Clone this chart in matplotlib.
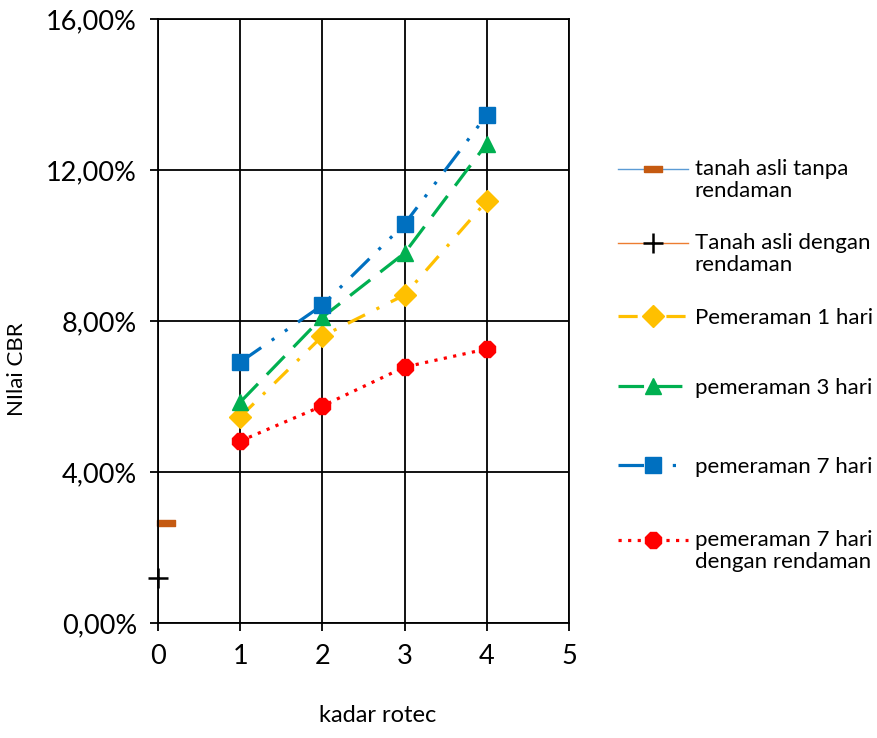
import matplotlib
matplotlib.use('Agg')
from matplotlib import pyplot as plt
from matplotlib.ticker import FuncFormatter, MultipleLocator

plt.rcParams['font.family'] = ['Lato', 'DejaVu Sans']

# data (CBR as fraction)
x_asli_tanpa = [0.1]
y_asli_tanpa = [0.0266]
x_asli_dengan = [0]
y_asli_dengan = [0.0119]
kadar = [1, 2, 3, 4]
peram_1 = [0.0546, 0.0760, 0.0869, 0.1118]
peram_3 = [0.0585, 0.0810, 0.0980, 0.1270]
peram_7 = [0.0691, 0.0842, 0.1057, 0.1346]
peram_7_rendam = [0.0482, 0.0575, 0.0678, 0.0726]

labels = ['tanah asli tanpa\nrendaman', 'Tanah asli dengan\nrendaman', 'Pemeraman 1 hari',
          'pemeraman 3 hari', 'pemeraman 7 hari', 'pemeraman 7 hari\ndengan rendaman']

fig = plt.figure(figsize=(8.78, 7.38), dpi=100)
ax = fig.add_axes([158/878, 1 - 623/738, (569-158)/878, (623-19)/738])

flat = [(-1, -0.38), (1, -0.38), (1, 0.38), (-1, 0.38), (-1, -0.38)]
lines = []
lines += ax.plot(x_asli_tanpa, y_asli_tanpa, color='#5B9BD5', lw=1, marker=flat, markersize=13,
                 markerfacecolor='#C55A11', markeredgecolor='#C55A11', clip_on=False)
lines += ax.plot(x_asli_dengan, y_asli_dengan, color='#ED7D31', lw=1, marker='+', markersize=14,
                 markeredgecolor='black', markeredgewidth=1.8, clip_on=False)
lines += ax.plot(kadar, peram_1, color='#FFC000', lw=2.3, ls=(0, (6, 4, 1, 4)), marker='D', markersize=11)
lines += ax.plot(kadar, peram_3, color='#00B050', lw=2.3, ls=(0, (8, 4)), marker='^', markersize=12)
lines += ax.plot(kadar, peram_7, color='#0070C0', lw=2.3, ls=(0, (8, 4, 1, 4, 1, 4)), marker='s', markersize=11)
lines += ax.plot(kadar, peram_7_rendam, color='#FF0000', lw=2.3, ls=(0, (1, 2)), marker='8', markersize=13)

ax.set_xlim(0, 5)
ax.set_ylim(0, 0.16)
ax.xaxis.set_major_locator(MultipleLocator(1))
ax.yaxis.set_major_locator(MultipleLocator(0.04))
ax.yaxis.set_major_formatter(FuncFormatter(lambda v, p: ('%.2f%%' % (v * 100)).replace('.', ',')))
ax.grid(True, color='black', lw=1.3)
ax.set_axisbelow(True)
for s in ax.spines.values():
    s.set_color('black')
    s.set_linewidth(1.3)
ax.tick_params(labelsize=19.5, length=6, width=1.3, direction='out')
ax.tick_params(axis='y', pad=9)
ax.tick_params(axis='x', pad=9)

ax.set_xlabel('kadar rotec', fontsize=17)
ax.xaxis.set_label_coords((378 - 158) / 411, -0.135)
ax.set_ylabel('NIlai CBR', fontsize=16)
ax.yaxis.set_label_coords(-0.318, 0.42)

# legend entries placed one by one, handle level with first text line
entry_y = [169, 243, 318, 388, 467, 540]
for h, lab, yy in zip(lines, labels, entry_y):
    txt = '\n' + lab if '\n' in lab else lab
    leg = fig.legend([h], [txt], loc='center left', bbox_to_anchor=(618/878, 1 - yy/738),
                     frameon=False, fontsize=16, handlelength=3.15, handletextpad=0.3,
                     borderpad=0, borderaxespad=0, labelspacing=0)
    for t in leg.get_texts():
        t.set_linespacing(1.1)

plt.savefig('out.png', dpi=100)
